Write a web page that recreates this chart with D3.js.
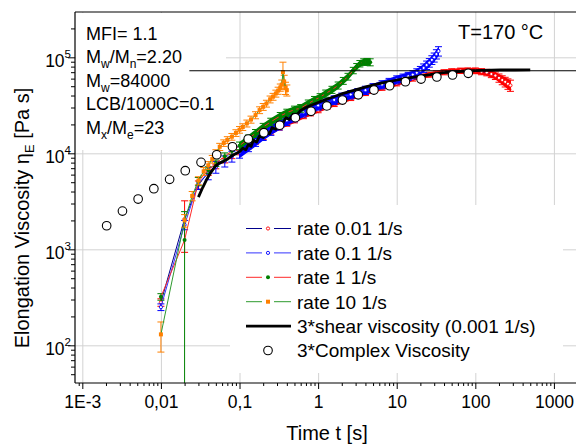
<!DOCTYPE html>
<html>
<head>
<meta charset="utf-8">
<script src="https://cdn.jsdelivr.net/npm/d3@7"></script>
<style>
  html, body { margin: 0; padding: 0; background: #fff; }
  #chart { width: 576px; height: 446px; }
  text { font-family: "Liberation Sans", Arial, sans-serif; fill: #000; }
</style>
</head>
<body>
<div id="chart"></div>
<script>
// Elongation viscosity vs time
const xTickValues = [1e-3, 1e-2, 1e-1, 1, 10, 100, 1000];
const xTickLabels = ["1E-3", "0,01", "0,1", "1", "10", "100", "1000"];
const yTickValues = [1e2, 1e3, 1e4, 1e5];
const yTickExponents = ["2", "3", "4", "5"];

const infoLines = ["MFI= 1.1", "M_w/M_n=2.20", "M_w=84000", "LCB/1000C=0.1", "M_x/M_e=23"];
const tempLabel = "T=170 °C";
const xTitle = "Time t [s]";
const yTitle = "Elongation Viscosity η_E [Pa s]";

const legendLabels = ["rate 0.01 1/s", "rate 0.1 1/s", "rate 1 1/s", "rate 10 1/s",
  "3*shear viscosity (0.001 1/s)", "3*Complex Viscosity"];

// rate 0.01 1/s
const rate001T = [0.01, 0.02, 0.03, 0.04, 0.05, 0.065, 0.08, 0.1, 0.13, 0.16, 0.2, 0.25, 0.32, 0.4, 0.5, 0.65, 0.8, 1,
  1.3, 1.6, 2, 2.6, 3.2, 4, 5, 6.5, 8, 10, 13, 16, 20, 26, 32, 40, 50, 65, 80, 100, 120, 140, 160, 180, 200, 220, 240, 260, 280];
const rate001V = [280, 2065, 4700, 6300, 7300, 8400, 9300, 10200, 11800, 13200, 14800, 16500, 18500, 20300, 22000, 24300, 26000, 28000,
  30500, 32500, 34800, 37500, 39800, 42300, 45000, 48000, 50500, 53500, 57000, 60000, 63000, 66000, 68000, 70000, 71500, 72500, 72800, 72500,
  71000, 69500, 67000, 64500, 61000, 58000, 55500, 53000, 51000];
const rate001E = [25, 1135, 450, 400, 400, 450, 500, 550, 650, 750, 850, 950, 1050, 1150, 1250, 1350, 1450, 1550,
  1700, 1800, 1900, 2050, 2200, 2350, 2500, 2700, 2900, 3100, 3300, 3500, 3700, 3900, 4100, 4300, 4500, 4700, 4800, 5000,
  5200, 5400, 5600, 5800, 6000, 6200, 6400, 6600, 6800];

// rate 0.1 1/s
const rate01T = [0.01, 0.02, 0.03, 0.04, 0.05, 0.065, 0.08, 0.1, 0.13, 0.16, 0.2, 0.25, 0.32, 0.4, 0.5, 0.65, 0.8, 1,
  1.3, 1.6, 2, 2.6, 3.2, 4, 5, 6.5, 8, 10, 12, 14, 16, 18, 20, 22, 24, 26, 28, 30, 32, 34];
const rate01V = [250, 1800, 4900, 6200, 7200, 8300, 9300, 10300, 12000, 13600, 15500, 17500, 19800, 22000, 24000, 26800, 29000, 31500,
  34000, 36000, 38500, 41000, 43000, 45500, 48500, 52000, 55000, 58500, 61000, 63500, 66000, 69000, 73000, 77500, 83000, 88000,
  94000, 100000, 108000, 116000];
const rate01E = [20, 200, 700, 900, 1000, 1100, 1200, 1400, 1600, 1800, 1900, 2100, 2300, 2500, 2700, 2900, 3100, 3300,
  3500, 3700, 3900, 4100, 4300, 4500, 4700, 5000, 5300, 5600, 5900, 6200, 6500, 6900, 7300, 7800, 8400, 9000,
  9800, 10800, 12000, 13000];

// rate 1 1/s
const rate1T = [0.01, 0.02, 0.03, 0.04, 0.05, 0.065, 0.08, 0.1, 0.13, 0.16, 0.2, 0.25, 0.33, 0.4, 0.5, 0.6, 0.75, 0.9,
  1.06, 1.25, 1.5, 1.8, 2.09, 2.4, 2.8, 3.1, 3.4, 3.8, 4.2, 4.6];
const rate1V = [320, 1250, 5100, 6700, 7900, 9300, 10600, 12000, 14200, 16200, 18800, 21300, 24500, 26500, 28500, 29500, 33000, 36000,
  38500, 42000, 46000, 51000, 57000, 63000, 73000, 80000, 86000, 89500, 90000, 89000];
const rate1E = [25, 1220, 500, 550, 600, 800, 950, 1100, 1300, 1500, 1700, 1900, 2100, 2300, 2500, 2700, 2900, 3100,
  3300, 3600, 3900, 4300, 4700, 5100, 5600, 6100, 6600, 7000, 7300, 7500];

// rate 10 1/s
const rate10T = [0.01, 0.02, 0.025, 0.03, 0.035, 0.04, 0.045, 0.05, 0.056, 0.063, 0.07, 0.08, 0.09, 0.1, 0.11, 0.124,
  0.14, 0.16, 0.18, 0.2, 0.22, 0.245, 0.267, 0.29, 0.31, 0.33, 0.345, 0.357, 0.37, 0.385, 0.4];
const rate10V = [130, 2000, 3600, 5200, 6500, 7500, 8700, 10000, 11700, 12800, 13800, 14900, 16300, 17600, 18800, 20500,
  22500, 25000, 28200, 30500, 33000, 36500, 38900, 42000, 45000, 48500, 52000, 70000, 56000, 48000, 45500];
const rate10E = [45, 300, 400, 500, 600, 700, 800, 900, 1000, 1000, 1100, 1200, 1300, 1400, 1500, 1700,
  1900, 2100, 2300, 2500, 2700, 3000, 3200, 3500, 3800, 4200, 6000, 19000, 9000, 7000, 6000];

// 3*shear viscosity (0.001 1/s)
const shearT = [0.030, 0.034, 0.038, 0.043, 0.049, 0.055, 0.062, 0.07, 0.083, 0.1, 0.11, 0.12, 0.13, 0.14, 0.15, 0.165,
  0.18, 0.2, 0.22, 0.24, 0.26, 0.29, 0.32, 0.35, 0.39, 0.43, 0.48, 0.53, 0.6, 0.7, 0.8, 1.06, 1.4, 2.09, 4.15, 6.1,
  9.05, 13, 19.8, 39.2, 77.6, 120, 209, 320, 500];
const shearV = [3500, 4400, 5300, 6300, 7300, 7900, 8200, 8700, 9600, 10400, 11300, 10900, 12300, 11800, 13700, 13100,
  15200, 14600, 16700, 16000, 18500, 17800, 21000, 20000, 23500, 22500, 25500, 24800, 28000, 30000, 31500, 34500, 37500, 42200, 49400, 53500,
  57000, 60500, 63800, 69200, 72000, 73000, 73800, 73800, 73900];

// 3*complex viscosity
const complexT = [0.00204, 0.00324, 0.00513, 0.00813, 0.0129, 0.0204, 0.0324, 0.0513, 0.0813, 0.129, 0.204, 0.324,
  0.513, 0.813, 1.29, 2.04, 3.24, 5.13, 8.13, 12.9, 20.4, 32.4, 51.3, 81.3];
const complexV = [1760, 2500, 3340, 4280, 5360, 6590, 8060, 9660, 11700, 14100, 16400, 19600,
  23500, 27400, 31200, 35900, 40700, 45600, 50600, 55700, 59400, 62400, 65500, 68100];

// plateau reference line
const plateauT = [0.023, 3000];
const plateauV = [72400, 72400];

(function() {
  if (typeof d3 === 'undefined') {
    console.error('D3.js not loaded');
    return;
  }

  const container = document.getElementById('chart');
  const width = 576;
  const height = 446;
  const margin = { top: 12, right: 0, bottom: 63, left: 75 };
  const innerWidth = width - margin.left - margin.right;
  const innerHeight = height - margin.top - margin.bottom;

  const svg = d3.select(container)
    .append("svg")
    .attr("width", width)
    .attr("height", height)
    .attr("viewBox", `0 0 ${width} ${height}`);

  const g = svg.append("g")
    .attr("transform", `translate(${margin.left},${margin.top})`);

  const xScale = d3.scaleLog()
    .domain([8.07e-4, 1910])
    .range([0, innerWidth]);

  const yScale = d3.scaleLog()
    .domain([40.5, 296500])
    .range([innerHeight, 0]);

  const series = [
    { t: rate001T, v: rate001V, e: rate001E, marker: "#ff0000", line: "#00008b", shape: "open", band: 0.1 },
    { t: rate01T, v: rate01V, e: rate01E, marker: "#0000ff", line: "#3333ff", shape: "open", band: 0.1 },
    { t: rate1T, v: rate1V, e: rate1E, marker: "#008000", line: "#ff2a2a", shape: "dot", band: 0.1 },
    { t: rate10T, v: rate10V, e: rate10E, marker: "#ff8000", line: "#2e9a2e", shape: "square", band: null }
  ];

  // grid
  g.append("g")
    .attr("class", "grid")
    .attr("transform", `translate(0,${innerHeight})`)
    .call(d3.axisBottom(xScale).tickValues(xTickValues).tickSize(-innerHeight).tickFormat(""))
    .call(s => s.select(".domain").remove())
    .selectAll("line").attr("stroke", "#d2d2d2");

  g.append("g")
    .attr("class", "grid")
    .call(d3.axisLeft(yScale).tickValues(yTickValues).tickSize(-innerWidth).tickFormat(""))
    .call(s => s.select(".domain").remove())
    .selectAll("line").attr("stroke", "#d2d2d2");

  // white boxes behind info text and legend
  g.append("rect")
    .attr("x", 1).attr("y", 1)
    .attr("width", 150).attr("height", 137)
    .attr("fill", "#fff");

  g.append("rect")
    .attr("x", 155).attr("y", 193)
    .attr("width", 333).attr("height", 168)
    .attr("fill", "#fff");

  const plot = g.append("g");

  const clamp = v => Math.max(v, yScale.domain()[0]);

  series.forEach(s => {
    const pts = s.t.map((t, i) => ({ t: t, v: s.v[i], e: s.e[i] }));

    if (s.band !== null) {
      const bandPts = pts.filter(d => d.t >= s.band);
      plot.append("path")
        .datum(bandPts)
        .attr("fill", s.marker)
        .attr("d", d3.area()
          .x(d => xScale(d.t))
          .y0(d => yScale(clamp(d.v - d.e)))
          .y1(d => yScale(d.v + d.e)));
    }

    const bars = plot.append("g").attr("stroke", s.marker).attr("stroke-width", 1);
    pts.forEach(d => {
      const xp = xScale(d.t);
      const lowClipped = d.v - d.e <= yScale.domain()[0];
      const y0 = yScale(clamp(d.v - d.e));
      const y1 = yScale(d.v + d.e);
      bars.append("line").attr("x1", xp).attr("x2", xp).attr("y1", y0).attr("y2", y1);
      bars.append("line").attr("x1", xp - 3.5).attr("x2", xp + 3.5).attr("y1", y1).attr("y2", y1);
      if (!lowClipped) {
        bars.append("line").attr("x1", xp - 3.5).attr("x2", xp + 3.5).attr("y1", y0).attr("y2", y0);
      }
    });

    plot.append("path")
      .datum(pts)
      .attr("fill", "none")
      .attr("stroke", s.line)
      .attr("stroke-width", 1)
      .attr("d", d3.line().x(d => xScale(d.t)).y(d => yScale(d.v)));

    drawMarker(plot.append("g"), pts.map(d => [xScale(d.t), yScale(d.v)]), s);
  });

  function drawMarker(sel, coords, s) {
    coords.forEach(([cx, cy]) => {
      if (s.shape === "square") {
        sel.append("rect").attr("x", cx - 2).attr("y", cy - 2)
          .attr("width", 4).attr("height", 4).attr("fill", s.marker);
      } else if (s.shape === "dot") {
        sel.append("circle").attr("cx", cx).attr("cy", cy).attr("r", 2).attr("fill", s.marker);
      } else {
        sel.append("circle").attr("cx", cx).attr("cy", cy).attr("r", 1.6)
          .attr("fill", "#fff").attr("stroke", s.marker).attr("stroke-width", 0.9);
      }
    });
  }

  // shear viscosity line
  plot.append("path")
    .datum(shearT.map((t, i) => [t, shearV[i]]))
    .attr("fill", "none")
    .attr("stroke", "#000")
    .attr("stroke-width", 2.8)
    .attr("stroke-linejoin", "round")
    .attr("d", d3.line().x(d => xScale(d[0])).y(d => yScale(d[1])));

  // plateau line
  plot.append("path")
    .datum(plateauT.map((t, i) => [t, plateauV[i]]))
    .attr("fill", "none")
    .attr("stroke", "#000")
    .attr("stroke-width", 1.1)
    .attr("d", d3.line().x(d => xScale(d[0])).y(d => yScale(d[1])));

  // complex viscosity circles
  plot.selectAll(".cplx")
    .data(complexT.map((t, i) => [t, complexV[i]]))
    .enter()
    .append("circle")
    .attr("class", "cplx")
    .attr("cx", d => xScale(d[0]))
    .attr("cy", d => yScale(d[1]))
    .attr("r", 4.3)
    .attr("fill", "#fff")
    .attr("stroke", "#000")
    .attr("stroke-width", 1.1);

  // axes
  const minorX = [];
  [-4, -3, -2, -1, 0, 1, 2, 3].forEach(k => {
    for (let m = 2; m <= 9; m++) {
      const v = m * Math.pow(10, k);
      if (v >= xScale.domain()[0] && v <= xScale.domain()[1]) minorX.push(v);
    }
  });
  const minorY = [];
  [1, 2, 3, 4, 5].forEach(k => {
    for (let m = 2; m <= 9; m++) {
      const v = m * Math.pow(10, k);
      if (v >= yScale.domain()[0] && v <= yScale.domain()[1]) minorY.push(v);
    }
  });

  const xAxis = g.append("g")
    .attr("class", "axis")
    .attr("transform", `translate(0,${innerHeight})`);
  xAxis.append("g")
    .call(d3.axisBottom(xScale).tickValues(minorX).tickSize(3).tickSizeOuter(0).tickFormat(""))
    .call(s => s.select(".domain").remove());
  xAxis.append("g")
    .call(d3.axisBottom(xScale).tickValues(xTickValues).tickSize(6).tickSizeOuter(0)
      .tickFormat((d, i) => xTickLabels[i]))
    .call(s => s.select(".domain").remove())
    .call(s => s.selectAll("text")
      .attr("y", 13)
      .attr("dy", "0.71em")
      .style("font-size", "17.5px")
      .style("font-family", "'Liberation Sans', Arial, sans-serif"));

  const yAxis = g.append("g").attr("class", "axis");
  yAxis.append("g")
    .call(d3.axisLeft(yScale).tickValues(minorY).tickSize(4).tickSizeOuter(0).tickFormat(""))
    .call(s => s.select(".domain").remove());
  yAxis.append("g")
    .call(d3.axisLeft(yScale).tickValues(yTickValues).tickSize(7).tickSizeOuter(0).tickFormat(""))
    .call(s => s.select(".domain").remove())
    .selectAll(".tick")
    .append("text")
    .attr("x", -4)
    .attr("y", 9.5)
    .attr("text-anchor", "end")
    .attr("fill", "#000")
    .style("font-size", "17.5px")
    .each(function(d, i) {
      const t = d3.select(this);
      t.append("tspan").text("10");
      t.append("tspan").attr("dy", -9).style("font-size", "11.5px").text(yTickExponents[i]);
    });

  g.selectAll(".axis line").attr("stroke", "#000");

  // frame
  g.append("line").attr("x1", 0).attr("x2", 0).attr("y1", 0).attr("y2", innerHeight)
    .attr("stroke", "#000").attr("stroke-width", 1.2);
  g.append("line").attr("x1", 0).attr("x2", innerWidth).attr("y1", innerHeight).attr("y2", innerHeight)
    .attr("stroke", "#000").attr("stroke-width", 1.2);
  g.append("line").attr("x1", 0).attr("x2", innerWidth).attr("y1", 0).attr("y2", 0)
    .attr("stroke", "#000").attr("stroke-width", 1.2);

  // rich text helper: "_x" means subscript x
  function richText(sel, str, size, subSize) {
    const parts = str.split(/(_.)/).filter(p => p.length);
    let sub = false;
    parts.forEach(p => {
      if (p[0] === "_") {
        sel.append("tspan").attr("dy", sub ? 0 : 5).style("font-size", subSize + "px").text(p.slice(1));
        sub = true;
      } else {
        sel.append("tspan").attr("dy", sub ? -5 : 0).style("font-size", size + "px").text(p);
        sub = false;
      }
    });
  }

  // info text
  infoLines.forEach((line, i) => {
    const t = g.append("text")
      .attr("x", 11)
      .attr("y", 27.5 + i * 23.5);
    richText(t, line, 18, 12);
  });

  g.append("text")
    .attr("x", 383)
    .attr("y", 27)
    .style("font-size", "20px")
    .text(tempLabel);

  // legend
  const legend = g.append("g");
  const rowY = i => 216.5 + i * 24.4;
  series.forEach((s, i) => {
    const yy = rowY(i);
    legend.append("line").attr("x1", 171).attr("x2", 187).attr("y1", yy).attr("y2", yy)
      .attr("stroke", s.line).attr("stroke-width", 1);
    legend.append("line").attr("x1", 199).attr("x2", 216).attr("y1", yy).attr("y2", yy)
      .attr("stroke", s.line).attr("stroke-width", 1);
    drawMarker(legend.append("g"), [[193, yy]], s);
  });
  legend.append("line").attr("x1", 171).attr("x2", 216).attr("y1", rowY(4)).attr("y2", rowY(4))
    .attr("stroke", "#000").attr("stroke-width", 2.8);
  legend.append("circle").attr("cx", 193).attr("cy", rowY(5)).attr("r", 4.3)
    .attr("fill", "#fff").attr("stroke", "#000").attr("stroke-width", 1.1);

  legendLabels.forEach((label, i) => {
    legend.append("text")
      .attr("x", 222)
      .attr("y", rowY(i) + 6.8)
      .style("font-size", "19px")
      .text(label);
  });

  // axis titles
  svg.append("text")
    .attr("x", 327)
    .attr("y", 440)
    .attr("text-anchor", "middle")
    .style("font-size", "20px")
    .text(xTitle);

  const yt = svg.append("text")
    .attr("transform", "translate(29,218) rotate(-90)")
    .attr("text-anchor", "middle");
  richText(yt, yTitle, 20, 13);
})();
</script>
</body>
</html>
